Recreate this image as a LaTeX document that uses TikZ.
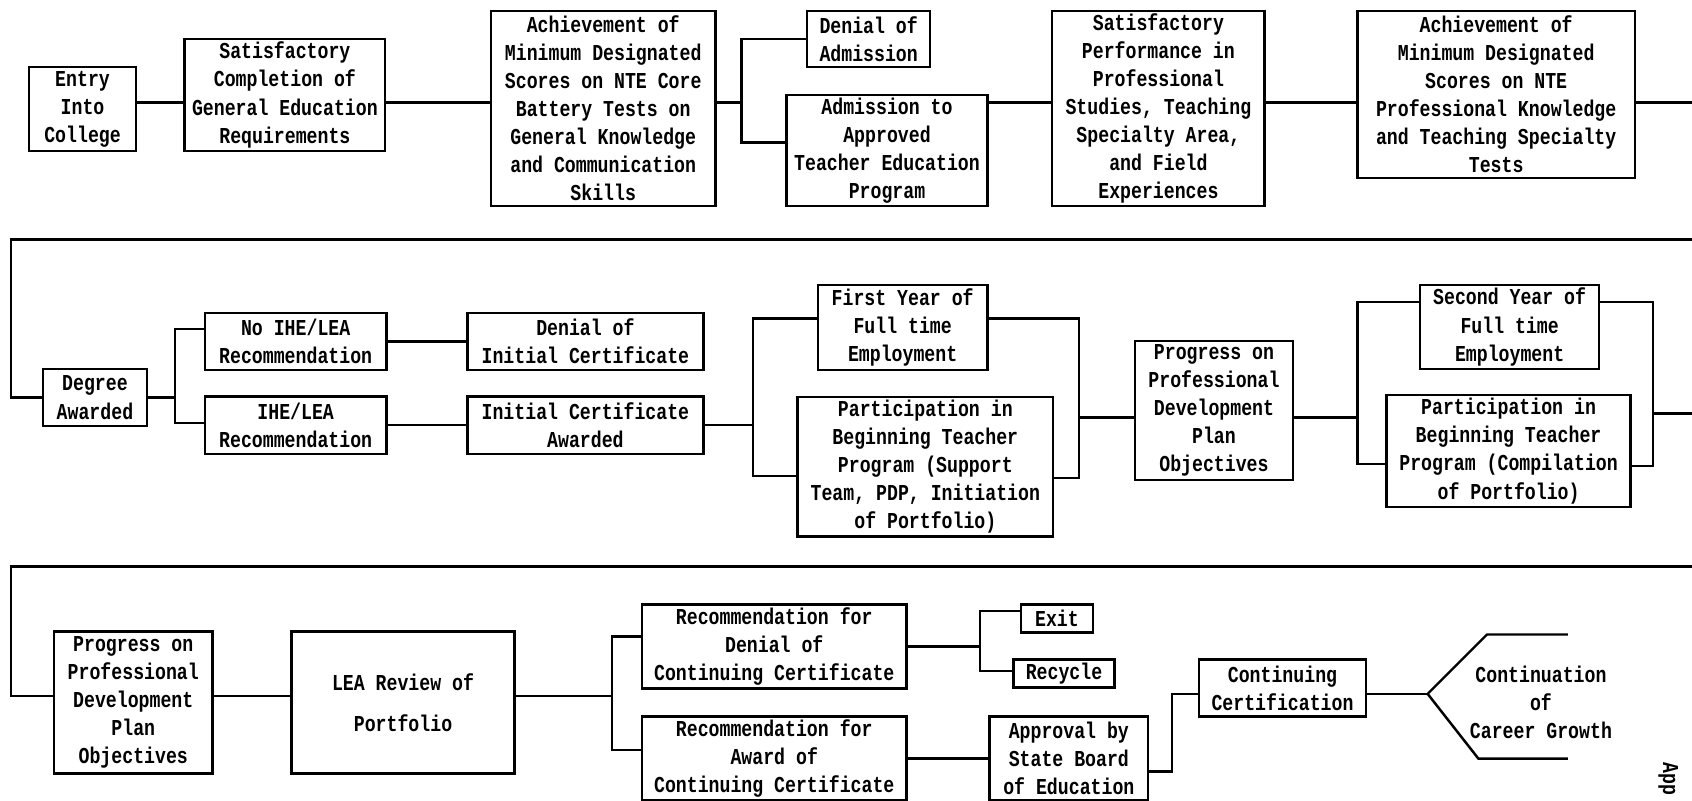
\documentclass[tikz,border=0pt]{standalone}
\usepackage{fontspec}
\setmainfont[FakeStretch=0.8]{Liberation Mono}
\usetikzlibrary{calc}

\begin{document}
\begin{tikzpicture}[x=0.02cm, y=-0.02cm, line width=1.3pt]
				\tikzstyle{every node}=[font=\fontsize{12}{14.8}\selectfont\bfseries, align=center];
				\tikzstyle{box}=[draw, inner sep=0pt];
				\fill[white] (0,0) rectangle (1568,742);
				\useasboundingbox (0,0) rectangle (1568,742);
				\node [box, minimum width=1.98cm, minimum height=1.56cm] (entry) at (76.5,101) {Entry\\Into\\College};
				\node [box, minimum width=3.72cm, minimum height=2.08cm] (satcomp) at (264,88) {Satisfactory\\Completion of\\General Education\\Requirements};
				\node [box, minimum width=4.16cm, minimum height=3.62cm] (achcore) at (559,100.5) {Achievement of\\Minimum Designated\\Scores on NTE Core\\Battery Tests on\\General Knowledge\\and Communication\\Skills};
				\node [box, minimum width=2.28cm, minimum height=1.04cm] (denadm) at (805,36) {Denial of\\Admission};
				\node [box, minimum width=3.72cm, minimum height=2.06cm] (admit) at (822,139.5) {Admission to\\Approved\\Teacher Education\\Program};
				\node [box, minimum width=3.94cm, minimum height=3.62cm] (satperf) at (1073.5,100.5) {Satisfactory\\Performance in\\Professional\\Studies, Teaching\\Specialty Area,\\and Field\\Experiences};
				\node [box, minimum width=5.14cm, minimum height=3.10cm] (achprof) at (1386.5,87.5) {Achievement of\\Minimum Designated\\Scores on NTE\\Professional Knowledge\\and Teaching Specialty\\Tests};
				\coordinate (r1) at (0,95);
				\coordinate (j1) at (687,95);
				\coordinate (j1b) at (687,132);
				\coordinate (wrapA) at (1568,95);
				\draw (entry.east |- r1) -- (satcomp.west |- r1);
				\draw (satcomp.east |- r1) -- (achcore.west |- r1);
				\draw (achcore.east |- j1) -- (j1);
				\draw (denadm.west) -| (j1) -- (j1b) -- (admit.west |- j1b);
				\draw (admit.east |- r1) -- (satperf.west |- r1);
				\draw (satperf.east |- r1) -- (achprof.west |- r1);
				\draw (achprof.east |- r1) -- (wrapA);
				\node [box, minimum width=1.92cm, minimum height=1.06cm] (degree) at (88,368.5) {Degree\\Awarded};
				\node [box, minimum width=3.36cm, minimum height=1.06cm] (noihe) at (274,316.5) {No IHE/LEA\\Recommendation};
				\node [box, minimum width=3.36cm, minimum height=1.06cm] (ihe) at (274,394) {IHE/LEA\\Recommendation};
				\node [box, minimum width=4.38cm, minimum height=1.06cm] (deninit) at (542.5,316.5) {Denial of\\Initial Certificate};
				\node [box, minimum width=4.38cm, minimum height=1.06cm] (initcert) at (542.5,394) {Initial Certificate\\Awarded};
				\node [box, minimum width=3.14cm, minimum height=1.58cm] (first) at (836.5,303.5) {First Year of\\Full time\\Employment};
				\node [box, minimum width=4.74cm, minimum height=2.58cm] (part1) at (857.5,432.5) {Participation in\\Beginning Teacher\\Program (Support\\Team, PDP, Initiation\\of Portfolio)};
				\node [box, minimum width=2.92cm, minimum height=2.58cm] (prog1) at (1125,380.5) {Progress on\\Professional\\Development\\Plan\\Objectives};
				\node [box, minimum width=3.32cm, minimum height=1.56cm] (second) at (1399,303) {Second Year of\\Full time\\Employment};
				\node [box, minimum width=4.52cm, minimum height=2.08cm] (part2) at (1398,418) {Participation in\\Beginning Teacher\\Program (Compilation\\of Portfolio)};
				\coordinate (wrapB) at (1568,222);
				\coordinate (wrapC) at (10,222);
				\draw (wrapB) -- (wrapC) |- (degree.west);
				\coordinate (j2a) at (162,305);
				\coordinate (j2b) at (162,392);
				\draw (degree.east) -- (degree.east -| j2a);
				\draw (noihe.west |- j2a) -- (j2a) -- (j2b) -- (ihe.west |- j2b);
				\draw (noihe) -- (deninit);
				\draw (ihe) -- (initcert);
				\coordinate (j3a) at (698,295);
				\coordinate (j3b) at (698,441);
				\draw (initcert.east) -- (initcert.east -| j3a);
				\draw (first.west |- j3a) -- (j3a) -- (j3b) -- (part1.west |- j3b);
				\coordinate (j4a) at (1000,295);
				\coordinate (j4b) at (1000,443);
				\coordinate (r2) at (0,387);
				\draw (first.east |- j4a) -- (j4a) -- (j4b) -- (part1.east |- j4b);
				\draw (j4a |- r2) -- (prog1.west |- r2);
				\coordinate (j5a) at (1258,280);
				\coordinate (j5b) at (1258,430);
				\draw (prog1.east |- r2) -- (j5a |- r2);
				\draw (second.west |- j5a) -- (j5a) -- (j5b) -- (part2.west |- j5b);
				\coordinate (j6a) at (1532,280);
				\coordinate (j6b) at (1532,432);
				\coordinate (wrapD) at (1568,383);
				\draw (second.east |- j6a) -- (j6a) -- (j6b) -- (part2.east |- j6b);
				\draw (j6a |- wrapD) -- (wrapD);
				\node [box, minimum width=2.94cm, minimum height=2.64cm] (prog2) at (123.5,651) {Progress on\\Professional\\Development\\Plan\\Objectives};
				\node [box, minimum width=4.14cm, minimum height=2.64cm] (review) at (373.5,651) {LEA Review of\\[7pt]Portfolio};
				\node [box, minimum width=4.9cm, minimum height=1.56cm] (recden) at (717.5,599) {Recommendation for\\Denial of\\Continuing Certificate};
				\node [box, minimum width=4.9cm, minimum height=1.56cm] (recaw) at (717.5,703) {Recommendation for\\Award of\\Continuing Certificate};
				\node [box, minimum width=1.34cm, minimum height=0.52cm] (exit) at (979.5,573) {Exit};
				\node [box, minimum width=1.88cm, minimum height=0.52cm] (recycle) at (986,624) {Recycle};
				\node [box, minimum width=2.94cm, minimum height=1.56cm] (approval) at (990.5,703) {Approval by\\State Board\\of Education};
				\node [box, minimum width=3.1cm, minimum height=1.06cm] (contcert) at (1188.5,637.5) {Continuing\\Certification};
				\node (career) at (1428,651) {Continuation\\of\\Career Growth};
				\node [rotate=-90, anchor=west] (app) at (1546,700) {App};
				\coordinate (wrapE) at (1568,525);
				\coordinate (wrapF) at (10,525);
				\coordinate (r3) at (0,645);
				\draw (wrapE) -- (wrapF) |- (prog2.west |- r3);
				\draw (prog2.east |- r3) -- (review.west |- r3);
				\coordinate (j7a) at (567,590);
				\coordinate (j7b) at (567,695);
				\draw (review.east |- r3) -- (j7a |- r3);
				\draw (recden.west |- j7a) -- (j7a) -- (j7b) -- (recaw.west |- j7b);
				\coordinate (j8a) at (908,566);
				\coordinate (j8b) at (908,622);
				\draw (recden.east) -- (recden.east -| j8a);
				\draw (exit.west |- j8a) -- (j8a) -- (j8b) -- (recycle.west |- j8b);
				\draw (recaw) -- (approval);
				\coordinate (j9a) at (1086,715);
				\coordinate (j9b) at (1086,643);
				\draw (approval.east |- j9a) -- (j9a) -- (j9b) -- (contcert.west |- j9b);
				\coordinate (fork) at (1323,643);
				\coordinate (forkT) at (1378,588);
				\coordinate (forkB) at (1370,703);
				\coordinate (endT) at (1453,588);
				\coordinate (endB) at (1453,703);
				\draw (contcert.east |- fork) -- (fork);
				\draw (endT) -- (forkT) -- (fork) -- (forkB) -- (endB);
			\end{tikzpicture}
\end{document}
